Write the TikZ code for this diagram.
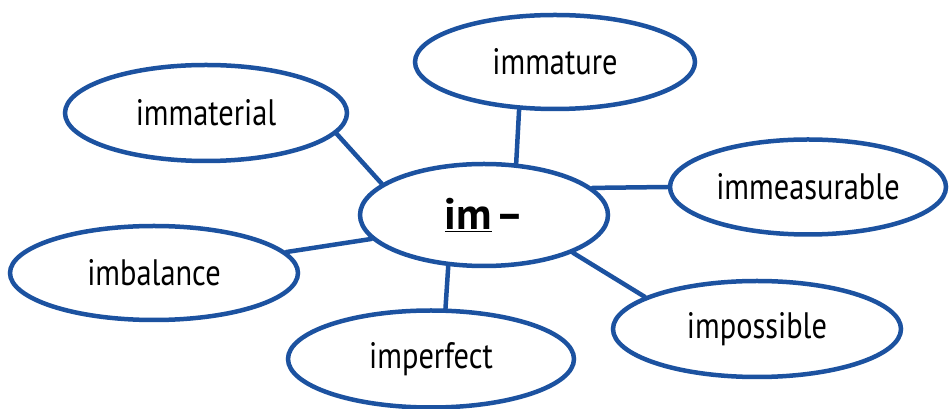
\documentclass[tikz,border=0pt]{standalone}
\usepackage{fontspec}
\setmainfont{PT Sans}
\usetikzlibrary{shapes.geometric,backgrounds}
\definecolor{penblue}{RGB}{28,82,160}
\newcommand{\wordtxt}[1]{\scalebox{0.95}[1.15]{#1}}
\begin{document}
\begin{tikzpicture}[x=1pt,y=1pt,
  bubble/.style={draw=penblue,line width=4.5pt,ellipse,fill=white,inner sep=0pt,font=\fontsize{32}{34}\selectfont},
  link/.style={draw=penblue,line width=4.5pt,line cap=round}]
\useasboundingbox (0,0) rectangle (950,409);
\node[bubble,minimum width=248pt,minimum height=102pt] (c) at (484,194) {\fontsize{44}{46}\selectfont\bfseries\underline{im}\kern4pt\scalebox{1.7}[1]{-}};
\node[bubble,minimum width=280pt,minimum height=94pt] (mat) at (555,347) {\wordtxt{immature}};
\node[bubble,minimum width=282pt,minimum height=96pt] (mtl) at (206,296) {\wordtxt{immaterial}};
\node[bubble,minimum width=276pt,minimum height=95pt] (mea) at (808,222) {\wordtxt{immeasurable}};
\node[bubble,minimum width=288pt,minimum height=94pt] (bal) at (154,136) {\wordtxt{imbalance}};
\node[bubble,minimum width=286pt,minimum height=97pt] (per) at (431,50) {\wordtxt{imperfect}};
\node[bubble,minimum width=288pt,minimum height=96pt] (pos) at (757,80) {\wordtxt{impossible}};
\begin{pgfonlayer}{background}
\draw[link] (mtl.-9) -- (c.163);
\draw[link] (mat.-127) -- (c.58);
\draw[link] (mea.180) -- (c.14);
\draw[link] (bal.9) -- (c.-168);
\draw[link] (per.74) -- (c.-125);
\draw[link] (pos.164) -- (c.-23);
\end{pgfonlayer}
\end{tikzpicture}
\end{document}
